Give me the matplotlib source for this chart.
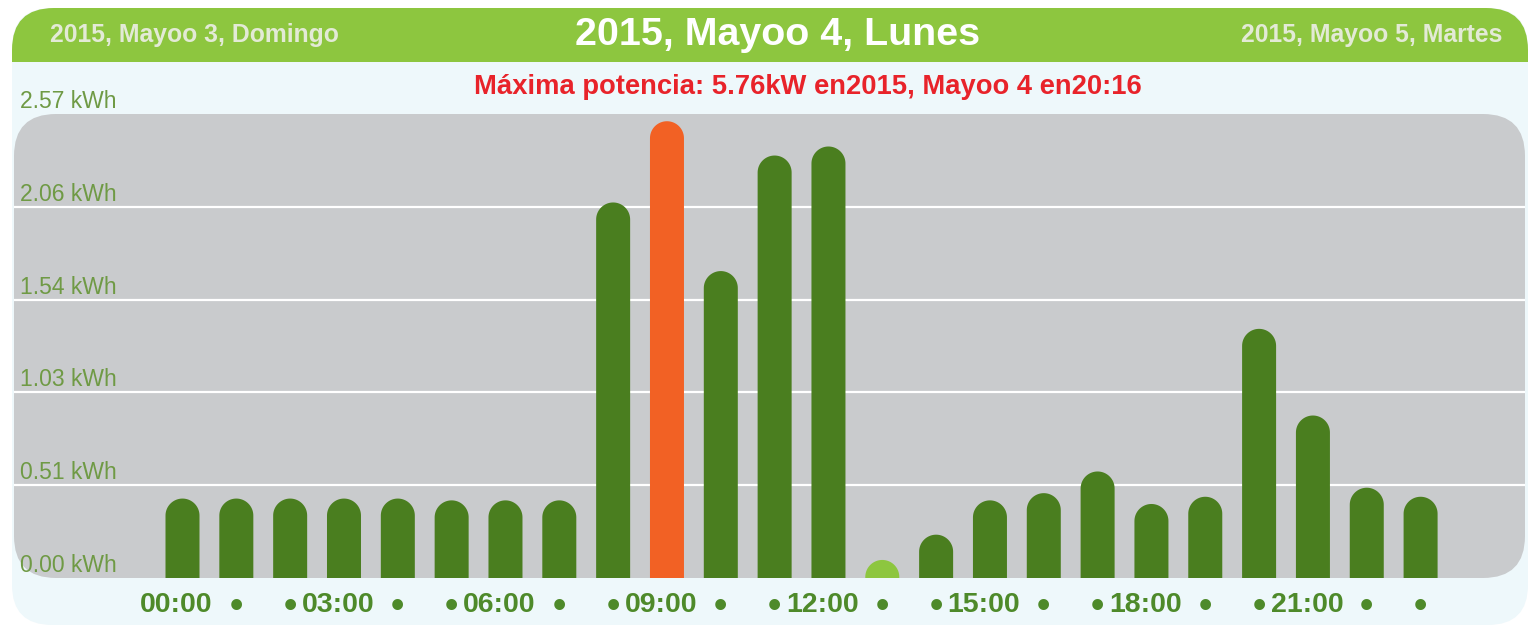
import matplotlib
matplotlib.use("Agg")
import matplotlib.pyplot as plt
import matplotlib.transforms as mtransforms
from matplotlib.patches import FancyBboxPatch, Rectangle, Polygon
import numpy as np

plt.rcParams['font.family'] = ['Liberation Sans', 'DejaVu Sans']

# ---------------- data ----------------
hours = list(range(24))
values = [0.44, 0.44, 0.44, 0.44, 0.44, 0.43, 0.43, 0.43,
          2.08, 2.53, 1.70, 2.34, 2.39, 0.10, 0.24, 0.43,
          0.47, 0.59, 0.41, 0.45, 1.38, 0.90, 0.50, 0.45]
highlight_hour = 9          # orange (maximum)
current_hour = 13           # light green
y_ticks = [0.00, 0.514, 1.028, 1.542, 2.056, 2.57]
y_tick_labels = ["0.00 kWh", "0.51 kWh", "1.03 kWh", "1.54 kWh", "2.06 kWh", "2.57 kWh"]
x_tick_labels = [f"{h:02d}:00" if h % 3 == 0 else "\u2022" for h in hours]
title = "2015, Mayoo 4, Lunes"
prev_day = "2015, Mayoo 3, Domingo"
next_day = "2015, Mayoo 5, Martes"
subtitle = "Máxima potencia: 5.76kW en2015, Mayoo 4 en20:16"

# ---------------- colours ----------------
C_PANEL = "#eef8fb"
C_HEADER = "#8dc63f"
C_SIDE = "#e3ead6"
C_GRAY = "#c9cbcd"
C_BAR = "#4a7e1f"
C_MAX = "#f26124"
C_CUR = "#8dc63f"
C_RED = "#e8232a"
C_YLAB = "#6f9a45"
C_XLAB = "#4e8a2a"

W, H = 1532, 631
fig = plt.figure(figsize=(W / 100, H / 100), dpi=100)
fig.patch.set_facecolor("white")

# background axes in pixel coordinates
bg = fig.add_axes([0, 0, 1, 1])
bg.set_xlim(0, W)
bg.set_ylim(H, 0)
bg.axis("off")
bg.set_zorder(0)

bg.add_patch(FancyBboxPatch((12, 8), 1516, 617, boxstyle="round,pad=0,rounding_size=40",
                            fc=C_PANEL, ec="none"))
bg.add_patch(FancyBboxPatch((12, 8), 1516, 100, boxstyle="round,pad=0,rounding_size=42",
                            fc=C_HEADER, ec="none"))
bg.add_patch(Rectangle((12, 62), 1516, 50, fc=C_PANEL, ec="none"))
plot_l, plot_r, plot_t, plot_b = 14, 1525, 114, 578
bg.add_patch(FancyBboxPatch((plot_l, plot_t), plot_r - plot_l, plot_b - plot_t,
                            boxstyle="round,pad=0,rounding_size=42", fc=C_GRAY, ec="none"))

bg.text(778, 35, title, color="white", fontsize=28.4, fontweight="bold", ha="center", va="center")
bg.text(50, 35, prev_day, color=C_SIDE, fontsize=17.8, fontweight="bold", ha="left", va="center")
bg.text(1502, 35, next_day, color=C_SIDE, fontsize=17.8, fontweight="bold", ha="right", va="center")
bg.text(808, 87, subtitle, color=C_RED, fontsize=19.7, fontweight="bold", ha="center", va="center")

# main axes over the gray area
ax = fig.add_axes([plot_l / W, (H - plot_b) / H, (plot_r - plot_l) / W, (plot_b - plot_t) / H])
ax.set_zorder(1)
ax.patch.set_alpha(0)
bar0_px, step_px = 182.5, 53.83
ax.set_xlim((plot_l - bar0_px) / step_px, (plot_r - bar0_px) / step_px)
ax.set_ylim(0, y_ticks[-1])
for s in ax.spines.values():
    s.set_visible(False)

# gridlines
for yv in y_ticks[1:-1]:
    ax.axhline(yv, color="white", lw=1.6, zorder=1)

# y labels
lab_tr = mtransforms.offset_copy(ax.get_yaxis_transform(), fig=fig, x=0, y=1, units="dots")
for yv, lab in zip(y_ticks, y_tick_labels):
    ax.text(6 / (plot_r - plot_l), yv, lab, transform=lab_tr, color=C_YLAB, fontsize=16.5,
            ha="left", va="bottom", clip_on=False, zorder=3)

# rounded bars (one polygon each: rectangle + semicircular top)
bar_w = 34 / step_px
px_per_unit = (plot_b - plot_t) / y_ticks[-1]
r = 17 / px_per_unit
t = np.linspace(0, np.pi, 40)
for h, v in zip(hours, values):
    c = C_MAX if h == highlight_hour else (C_CUR if h == current_hour else C_BAR)
    base = max(v - r, 0)
    pts = [(h - bar_w / 2, 0), (h + bar_w / 2, 0), (h + bar_w / 2, base)]
    pts += [(h + bar_w / 2 * np.cos(a), base + r * np.sin(a)) for a in t]
    pts += [(h - bar_w / 2, base)]
    ax.add_patch(Polygon(pts, closed=True, fc=c, ec="none", zorder=2))

ax.set_yticks([])
ax.set_xticks(hours)
ax.set_xticklabels(x_tick_labels, fontweight="bold", color=C_XLAB)
ax.tick_params(axis="x", length=0, pad=10)
shift = mtransforms.ScaledTranslation(-6 / 100, 0, fig.dpi_scale_trans)
for lbl in ax.get_xticklabels():
    if lbl.get_text() == "\u2022":
        lbl.set_fontsize(27)
        lbl.set_transform(lbl.get_transform() + mtransforms.ScaledTranslation(0, 3 / 100, fig.dpi_scale_trans))
    else:
        lbl.set_fontsize(20.5)
        lbl.set_transform(lbl.get_transform() + shift)

fig.savefig("out.png", dpi=100, facecolor=fig.get_facecolor())
